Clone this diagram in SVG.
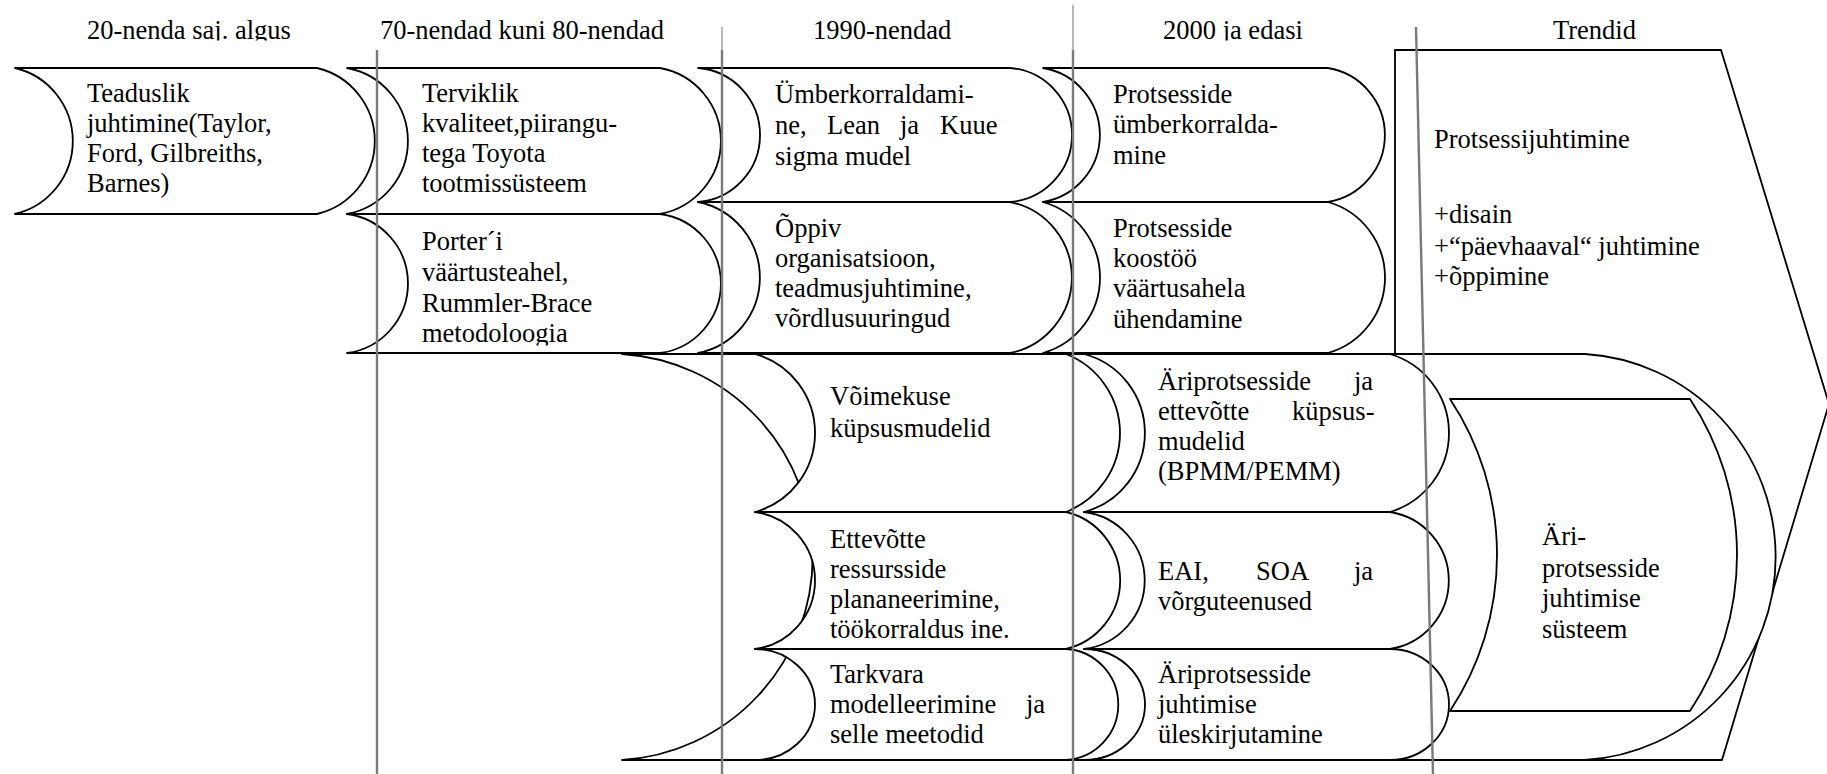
<svg xmlns="http://www.w3.org/2000/svg" width="1827" height="774" viewBox="0 0 1827 774" font-family="'Liberation Serif', 'Times New Roman', 'DejaVu Serif', serif">
<style>
.s{fill:#fff;stroke:#000;stroke-width:1.8;stroke-linejoin:round}
text, tspan{font-family:"Liberation Serif","Times New Roman","DejaVu Serif",serif;font-size:26.5px;fill:#000}
.g{stroke:#7a7a7a;stroke-width:2.4;fill:none}
.gt{stroke:#8c8c8c;stroke-width:1.2;fill:none}
</style>
<defs>
<clipPath id="hclip"><rect x="0" y="0" width="1827" height="40.5"/></clipPath>
<clipPath id="mclip"><rect x="0" y="0" width="1827" height="345.5"/></clipPath>
</defs>
<g id="headers" clip-path="url(#hclip)">
<text x="87" y="39">20-nenda saj. algus</text>
<text x="380" y="39">70-nendad kuni 80-nendad</text>
<text x="813" y="39">1990-nendad</text>
<text x="1163" y="39">2000 ja edasi</text>
<text x="1553" y="39">Trendid</text>
</g>
<g id="trend">
<polygon class="s" points="1395,50 1721,50 1829,404 1722,760 1395,760"/>
<text x="1434" y="148">Protsessijuhtimine</text>
<text x="1434" y="223">+disain</text>
<text x="1434" y="255">+“päevhaaval“ juhtimine</text>
<text x="1434" y="285">+õppimine</text>
</g>
<g id="system-frame">
<path class="s" d="M622,354 H1585 A203.4,203.4 0 0 1 1585,760 H622 A203.4,203.4 0 0 0 622,354 Z"/>
</g>
<g id="system">
<path class="s" d="M1450,399 H1690 A282.4,282.4 0 0 1 1690,711 H1450 A282.4,282.4 0 0 0 1450,399 Z"/>
<text x="1542" y="545">Äri-</text>
<text x="1542" y="577">protsesside</text>
<text x="1542" y="607">juhtimise</text>
<text x="1542" y="638">süsteem</text>
</g>
<g id="n1">
<path class="s" d="M15,68 H317 A75,75 0 0 1 317,214 H15 A75,75 0 0 0 15,68 Z"/>
<text x="87" y="102">Teaduslik</text>
<text x="87" y="132">juhtimine(Taylor,</text>
<text x="87" y="162">Ford, Gilbreiths,</text>
<text x="87" y="192">Barnes)</text>
</g>
<g id="n2a">
<path class="s" d="M347,68 H660 A74.2,74.2 0 0 1 660,214 H347 A74.2,74.2 0 0 0 347,68 Z"/>
<text x="422" y="102">Terviklik</text>
<text x="422" y="132">kvaliteet,piirangu-</text>
<text x="422" y="162">tega Toyota</text>
<text x="422" y="192">tootmissüsteem</text>
</g>
<g id="n2b">
<path class="s" d="M347,214 H660 A70.1,70.1 0 0 1 660,353 H347 A70.1,70.1 0 0 0 347,214 Z"/>
<text x="422" y="250">Porter´i</text>
<text x="422" y="281">väärtusteahel,</text>
<text x="422" y="312">Rummler-Brace</text>
<text x="422" y="342" clip-path="url(#mclip)">metodoloogia</text>
</g>
<g id="n3a">
<path class="s" d="M698,68 H1010 A67.2,67.2 0 0 1 1010,202 H698 A67.2,67.2 0 0 0 698,68 Z"/>
<text x="775" y="103">Ümberkorraldami-</text>
<text y="134"><tspan x="775">ne,</tspan><tspan x="827">Lean</tspan><tspan x="900">ja</tspan><tspan x="940">Kuue</tspan></text>
<text x="775" y="165">sigma mudel</text>
</g>
<g id="n3b">
<path class="s" d="M698,202 H1010 A77,77 0 0 1 1010,353 H698 A77,77 0 0 0 698,202 Z"/>
<text x="775" y="237">Õppiv</text>
<text x="775" y="267">organisatsioon,</text>
<text x="775" y="297">teadmusjuhtimine,</text>
<text x="775" y="327">võrdlusuuringud</text>
</g>
<g id="n4a">
<path class="s" d="M1043,68 H1328 A67.9,67.9 0 0 1 1328,202 H1043 A67.9,67.9 0 0 0 1043,68 Z"/>
<text x="1113" y="103">Protsesside</text>
<text x="1113" y="133">ümberkorralda-</text>
<text x="1113" y="164">mine</text>
</g>
<g id="n4b">
<path class="s" d="M1043,202 H1328 A78.5,78.5 0 0 1 1328,353 H1043 A78.5,78.5 0 0 0 1043,202 Z"/>
<text x="1113" y="237">Protsesside</text>
<text x="1113" y="267">koostöö</text>
<text x="1113" y="297">väärtusahela</text>
<text x="1113" y="328">ühendamine</text>
</g>
<g id="n3c">
<path class="s" d="M755,354 H1066 A84.8,84.8 0 0 1 1066,512 H755 A82,82 0 0 0 755,354 Z"/>
<text x="830" y="405">Võimekuse</text>
<text x="830" y="437">küpsusmudelid</text>
</g>
<g id="n3d">
<path class="s" d="M755,512 H1066 A70.4,70.4 0 0 1 1066,649 H755 A69.1,69.1 0 0 0 755,512 Z"/>
<text x="830" y="548">Ettevõtte</text>
<text x="830" y="578">ressursside</text>
<text x="830" y="608">plananeerimine,</text>
<text x="830" y="638">töökorraldus ine.</text>
</g>
<g id="n3e">
<path class="s" d="M755,649 H1066 A55.6,55.6 0 0 1 1066,760 H755 A60,55.5 0 0 0 755,649 Z"/>
<text x="830" y="683">Tarkvara</text>
<text y="713"><tspan x="830">modelleerimine</tspan><tspan x="1026">ja</tspan></text>
<text x="830" y="743">selle meetodid</text>
</g>
<g id="n4c">
<path class="s" d="M1084,354 H1390 A82.4,82.4 0 0 1 1390,512 H1084 A81.7,81.7 0 0 0 1084,354 Z"/>
<text y="390"><tspan x="1158">Äriprotsesside</tspan><tspan x="1354">ja</tspan></text>
<text y="420"><tspan x="1158">ettevõtte</tspan><tspan x="1292">küpsus-</tspan></text>
<text x="1158" y="450">mudelid</text>
<text x="1158" y="480">(BPMM/PEMM)</text>
</g>
<g id="n4d">
<path class="s" d="M1084,512 H1390 A69.3,69.3 0 0 1 1390,649 H1084 A69,69 0 0 0 1084,512 Z"/>
<text y="580"><tspan x="1158">EAI,</tspan><tspan x="1256">SOA</tspan><tspan x="1354">ja</tspan></text>
<text x="1158" y="610">võrguteenused</text>
</g>
<g id="n4e">
<path class="s" d="M1084,649 H1390 A59,55.5 0 0 1 1390,760 H1084 A61,55.5 0 0 0 1084,649 Z"/>
<text x="1158" y="683">Äriprotsesside</text>
<text x="1158" y="713">juhtimise</text>
<text x="1158" y="743">üleskirjutamine</text>
</g>
<g id="connectors">
<line class="g" x1="377" y1="50" x2="377" y2="774"/>
<line class="gt" x1="722" y1="27" x2="722" y2="50"/>
<line class="g" x1="722" y1="50" x2="722" y2="774"/>
<line class="gt" x1="1073" y1="5" x2="1073" y2="50"/>
<line class="g" x1="1073" y1="50" x2="1073" y2="774"/>
<line class="g" x1="1416" y1="27" x2="1433" y2="774"/>
</g>
</svg>
